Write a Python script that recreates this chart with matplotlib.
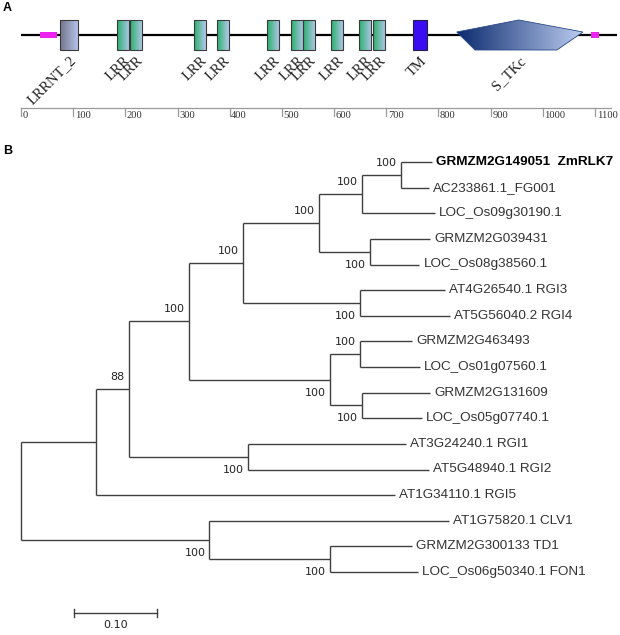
import numpy as np
import matplotlib
matplotlib.use("Agg")
import matplotlib.pyplot as plt
from matplotlib.patches import Polygon, Rectangle
from matplotlib.colors import LinearSegmentedColormap

# ---------------- Panel A data ----------------
protein_length = 1142
domain_names = ["LRRNT_2", "LRR", "LRR", "LRR", "LRR", "LRR", "LRR", "LRR",
                "LRR", "LRR", "LRR", "TM", "S_TKc"]
domain_start = [75, 184, 209, 332, 376, 471, 517, 540, 594, 648, 675, 751, 835]
domain_end = [109, 207, 232, 354, 398, 494, 540, 563, 617, 671, 698, 778, 1077]
kinase_top = 954          # apex of the S_TKc pentagon
kinase_bottom = [870, 1027]
lowcomp_start = [36, 1092]
lowcomp_end = [69, 1107]
axis_ticks = [0, 100, 200, 300, 400, 500, 600, 700, 800, 900, 1000, 1100]

# ---------------- Panel B data ----------------
leaf_names = ["GRMZM2G149051  ZmRLK7", "AC233861.1_FG001", "LOC_Os09g30190.1",
              "GRMZM2G039431", "LOC_Os08g38560.1", "AT4G26540.1 RGI3",
              "AT5G56040.2 RGI4", "GRMZM2G463493", "LOC_Os01g07560.1",
              "GRMZM2G131609", "LOC_Os05g07740.1", "AT3G24240.1 RGI1",
              "AT5G48940.1 RGI2", "AT1G34110.1 RGI5", "AT1G75820.1 CLV1",
              "GRMZM2G300133 TD1", "LOC_Os06g50340.1 FON1"]
leaf_depth = [0.495, 0.492, 0.499, 0.493, 0.480, 0.511, 0.517, 0.471, 0.481,
              0.493, 0.483, 0.464, 0.492, 0.451, 0.516, 0.471, 0.478]
node_names = ["A", "B", "C", "D", "F", "E", "I", "J", "H", "G", "L", "K", "M",
              "O", "N", "root"]
node_children = [(0, 1), ("A", 2), (3, 4), ("B", "C"), (5, 6), ("D", "F"),
                 (7, 8), (9, 10), ("I", "J"), ("E", "H"), (11, 12), ("G", "L"),
                 ("K", 13), (15, 16), (14, "O"), ("M", "N")]
node_depth = [0.458, 0.411, 0.420, 0.359, 0.408, 0.267, 0.408, 0.411, 0.372,
              0.202, 0.273, 0.130, 0.090, 0.372, 0.227, 0.0]
node_support = [100, 100, 100, 100, 100, 100, 100, 100, 100, 100, 100, 88,
                None, 100, 100, None]
support_side = ["up", "up", "down", "up", "down", "up", "up", "down", "down",
                "up", "down", "up", None, "down", "down", None]
scale_length = 0.10
scale_label = "0.10"

W, H = 620, 635
fig = plt.figure(figsize=(W / 100, H / 100), dpi=100)
fig.patch.set_facecolor("white")

# ================= Panel A =================
ppa = 574 / 1100.0
axA = fig.add_axes([0, 1 - 130 / H, 1, 130 / H])
axA.set_xlim(-21 / ppa, (W - 21) / ppa)
axA.set_ylim(130, 0)
axA.axis("off")

serif = ["Liberation Serif", "DejaVu Serif"]
yc, ytop, ybot = 35, 20, 50

axA.plot([0, protein_length], [yc, yc], color="black", lw=1.6, zorder=1,
         solid_capstyle="butt")


def grad_poly(ax, verts, c0, c1, edge="#3a3a3a", lw=0.8):
    poly = Polygon(verts, closed=True, facecolor="none", edgecolor=edge,
                   lw=lw, zorder=4)
    ax.add_patch(poly)
    xs = [v[0] for v in verts]
    ys = [v[1] for v in verts]
    cmap = LinearSegmentedColormap.from_list("g", [c0, c1])
    grad = np.linspace(0, 1, 256).reshape(1, -1)
    im = ax.imshow(grad, cmap=cmap, extent=(min(xs), max(xs), max(ys), min(ys)),
                   aspect="auto", zorder=3, interpolation="bilinear")
    im.set_clip_path(poly)


for s, e in zip(lowcomp_start, lowcomp_end):
    axA.add_patch(Rectangle((s, 32), e - s, 6, facecolor="#ee22ee",
                            edgecolor="none", zorder=3))

for name, s, e in zip(domain_names, domain_start, domain_end):
    mid = (s + e) / 2
    if name == "S_TKc":
        verts = [(s, 32), (kinase_top, 20), (e, 32), (kinase_bottom[1], ybot),
                 (kinase_bottom[0], ybot)]
        grad_poly(axA, verts, "#0b2a6e", "#bccdf0", edge="#2a4a8a", lw=0.6)
        lx, ly = kinase_top, 54
    elif name == "TM":
        axA.add_patch(Rectangle((s, ytop), e - s, ybot - ytop,
                                facecolor="#3a0cf2", edgecolor="#222244",
                                lw=0.8, zorder=4))
        lx, ly = mid + 1, 54
    else:
        verts = [(s, ytop), (e, ytop), (e, ybot), (s, ybot)]
        if name == "LRRNT_2":
            grad_poly(axA, verts, "#74748a", "#b3c3e8")
        else:
            grad_poly(axA, verts, "#28b06a", "#b6c8ee")
        lx, ly = mid + 1, 54
    axA.text(lx, ly, name, rotation=45, rotation_mode="anchor", ha="right",
             va="top", fontsize=10.5, family=serif, color="#222222")

# ruler
axA.plot([0, 1130], [108, 108], color="#9a9a9a", lw=0.9)
for t in axis_ticks:
    axA.plot([t, t], [108, 116], color="#9a9a9a", lw=0.9)
    axA.text(t + 3, 116, str(t), ha="left", va="center", fontsize=7.6,
             family=serif, color="#333333")

fig.text(3 / W, 1 - 8 / H, "A", fontsize=9, fontweight="bold",
         family=["Liberation Sans", "DejaVu Sans"], va="center", ha="left")
fig.text(3 / W, 1 - 151 / H, "B", fontsize=9, fontweight="bold",
         family=["Liberation Sans", "DejaVu Sans"], va="center", ha="left")

# ================= Panel B =================
ppu = 830.0
spacing = 25.625
axB = fig.add_axes([0, 0, 1, 505 / H])
axB.set_xlim(-21 / ppu, (W - 21) / ppu)
axB.set_ylim((635 - 162) / spacing, (130 - 162) / spacing)
axB.axis("off")

lc = "#404040"
lwt = 1.0
sans = ["Liberation Sans", "DejaVu Sans"]

pos = {}
for i, d in enumerate(leaf_depth):
    pos[i] = (d, float(i))
for name, ch, d in zip(node_names, node_children, node_depth):
    ys = [pos[c][1] for c in ch]
    pos[name] = (d, float(np.mean(ys)))

for name, ch, d, sup, side in zip(node_names, node_children, node_depth,
                                  node_support, support_side):
    x, y = pos[name]
    ys = [pos[c][1] for c in ch]
    axB.plot([x, x], [min(ys), max(ys)], color=lc, lw=lwt,
             solid_capstyle="butt")
    for c in ch:
        cx, cy = pos[c]
        axB.plot([x, cx], [cy, cy], color=lc, lw=lwt, solid_capstyle="butt")
    if sup is not None:
        dy = 12 if side == "up" else -13
        axB.annotate(str(sup), (x, y), xytext=(-4, dy),
                     textcoords="offset pixels", ha="right", va="center",
                     fontsize=8, family=["DejaVu Sans"], color="#222222")

for i, (nm, d) in enumerate(zip(leaf_names, leaf_depth)):
    if i == 0:
        axB.annotate(nm, (d, i), xytext=(4, 0), textcoords="offset pixels",
                     ha="left", va="center", fontsize=9.7, family=sans,
                     fontweight="bold", color="black")
    else:
        axB.annotate(nm, (d, i), xytext=(4, 0), textcoords="offset pixels",
                     ha="left", va="center", fontsize=9.7, family=sans,
                     color="#333333")

# scale bar
sx0 = 53 / ppu
sy = (613 - 162) / spacing
axB.plot([sx0, sx0 + scale_length], [sy, sy], color=lc, lw=lwt)
for xx in (sx0, sx0 + scale_length):
    axB.plot([xx, xx], [sy - 0.15, sy + 0.15], color=lc, lw=lwt)
axB.annotate(scale_label, (sx0 + scale_length / 2, sy), xytext=(0, -12),
             textcoords="offset pixels", ha="center", va="center",
             fontsize=8, family=["DejaVu Sans"], color="#222222")

fig.savefig("out.png", dpi=100, facecolor="white")
